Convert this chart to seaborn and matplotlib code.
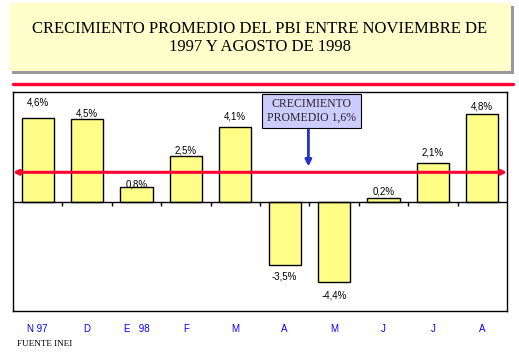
import matplotlib
matplotlib.use("Agg")
import matplotlib.pyplot as plt
import numpy as np
import seaborn as sns
from matplotlib.patches import Rectangle
from matplotlib.lines import Line2D

meses = ["N 97", "D", "E   98", "F", "M", "A", "M", "J", "J", "A"]
valores = [4.6, 4.5, 0.8, 2.5, 4.1, -3.5, -4.4, 0.2, 2.1, 4.8]
etiquetas = ["4,6%", "4,5%", "0,8%", "2,5%", "4,1%", "-3,5%", "-4,4%", "0,2%", "2,1%", "4,8%"]
promedio = 1.6

sns.set_theme(style="white")
plt.rcParams["font.family"] = ["Liberation Sans", "DejaVu Sans"]

fig = plt.figure(figsize=(5.19, 3.59), dpi=100)
W, H = 519, 359

def fx(px):
    return px / W

def fy(py):
    return 1 - py / H

# title box with shadow
fig.patches.append(Rectangle((fx(12), fy(74)), fx(502), 68 / H, transform=fig.transFigure,
                             facecolor="#999999", edgecolor="none", zorder=0))
fig.patches.append(Rectangle((fx(9), fy(71)), fx(502), 68 / H, transform=fig.transFigure,
                             facecolor="#FFFFCC", edgecolor="none", zorder=1))
fig.text(fx(260), fy(38), "CRECIMIENTO PROMEDIO DEL PBI ENTRE NOVIEMBRE DE\n1997 Y AGOSTO DE 1998",
         ha="center", va="center", family="Liberation Serif", fontsize=12,
         linespacing=1.15, color="black", zorder=2)

# red separator
fig.lines.append(Line2D([fx(13), fx(513)], [fy(84), fy(84)], transform=fig.transFigure,
                        color="#FF0033", lw=2.4))

ax = fig.add_axes([fx(13), fy(311), fx(494), 219 / H])
x = np.arange(len(valores))
sns.barplot(x=x, y=valores, color="#FFFF88", saturation=1, edgecolor="black",
            linewidth=1, width=0.65, ax=ax)
ax.set_xlim(-0.5, len(valores) - 0.5)
ax.set_ylim(-6, 6)
ax.set_yticks([])
ax.set_xticks(x)
ax.set_xticklabels(meses, color="#0000FF", fontsize=7)
ax.tick_params(axis="x", length=0, pad=9)
ax.set_xlabel("")
ax.set_ylabel("")
for s in ax.spines.values():
    s.set_color("black")
    s.set_linewidth(1)
    s.set_visible(True)

ax.axhline(0, color="black", lw=1, zorder=3)
ax.vlines(x[:-1] + 0.5, -0.25, 0, color="black", lw=1, zorder=3)

# value labels (placed as in the original)
pos_y = [5.42, 4.82, 0.93, 2.79, 4.66, -4.1, -5.15, 0.56, 2.7, 5.2]
for xi, yi, t in zip(x, pos_y, etiquetas):
    ax.text(xi, yi, t, ha="center", va="center", fontsize=7, color="black", zorder=4)

# average arrow
ax.annotate("", xy=(-0.5, promedio), xytext=(9.5, promedio), annotation_clip=False,
            arrowprops=dict(arrowstyle="<|-|>", color="#FF0033", lw=2.2,
                            mutation_scale=7, shrinkA=0, shrinkB=0), zorder=5)

ax.annotate("", xy=(5.48, 1.92), xytext=(5.48, 4.16),
            arrowprops=dict(arrowstyle="-|>", color="#2233CC", lw=2,
                            mutation_scale=9, shrinkA=0, shrinkB=0), zorder=5)
ax.text(5.54, 4.96, "CRECIMIENTO\nPROMEDIO 1,6%", ha="center", va="center",
        family="Liberation Serif", fontsize=8.5, linespacing=1.15, zorder=6,
        bbox=dict(boxstyle="square,pad=0.4", facecolor="#CCCCFF", edgecolor="black", lw=0.8))

fig.text(fx(17), fy(344), "FUENTE INEI", family="Liberation Serif", fontsize=6.6,
         ha="left", va="center", color="black")

fig.savefig("out.png", dpi=100)
